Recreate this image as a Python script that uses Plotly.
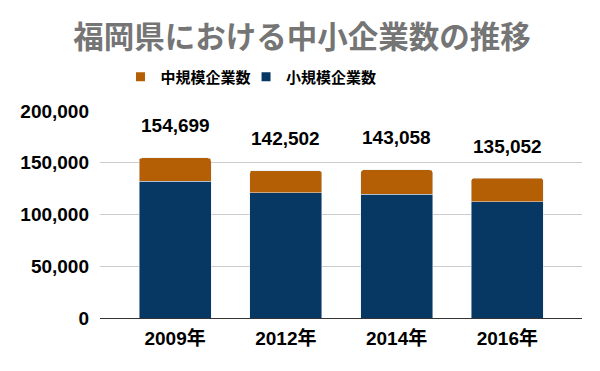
import plotly.graph_objects as go

years = ["2009年", "2012年", "2014年", "2016年"]
totals = [154699, 142502, 143058, 135052]
small = [132300, 120800, 119700, 112100]
medium = [t - s for t, s in zip(totals, small)]
ytick_vals = [0, 50000, 100000, 150000, 200000]
ytick_text = ["0", "50,000", "100,000", "150,000", "200,000"]

FONT = "Liberation Sans, Arial, Noto Sans CJK JP, sans-serif"
C_MED = "#b45f06"
C_SMALL = "#073763"

# page has an 8px body margin; size figure so it fills the 600x371 window
W, H = 592, 363

fig = go.Figure()
fig.add_trace(go.Bar(x=years, y=small, name="小規模企業数", marker_color=C_SMALL,
                     width=0.65, hoverinfo="skip", showlegend=False))
fig.add_trace(go.Bar(x=years, y=medium, name="中規模企業数", marker_color=C_MED,
                     width=0.65, hoverinfo="skip", showlegend=False))
# legend entries (small square swatches), one legend each for exact placement
for name, col, lg in [("中規模企業数", C_MED, "legend"), ("小規模企業数", C_SMALL, "legend2")]:
    fig.add_trace(go.Scatter(x=[None], y=[None], mode="markers", name=name,
                             marker=dict(symbol="square", size=9, color=col),
                             hoverinfo="skip", legend=lg))

for yr, t in zip(years, totals):
    fig.add_annotation(x=yr, y=t, text=f"<b>{t:,}</b>", showarrow=False, yanchor="middle",
                       yshift=32, font=dict(family=FONT, size=19, color="#000000"))

legend_font = dict(family=FONT, size=15, color="#000000", weight="bold")
fig.update_layout(
    width=W, height=H,
    margin=dict(l=92, r=18, t=103, b=53),
    paper_bgcolor="white", plot_bgcolor="white",
    barmode="stack", barcornerradius=3,
    title=dict(text="<b>福岡県における中小企業数の推移</b>", x=294 / W, xanchor="center",
               y=1 - 29 / H, yanchor="middle", yref="container",
               font=dict(family=FONT, size=30.5, color="#757575")),
    legend=dict(orientation="h", x=0.0425, xanchor="left", y=1.1645, yanchor="middle",
                bgcolor="rgba(0,0,0,0)", font=legend_font),
    legend2=dict(orientation="h", x=0.3030, xanchor="left", y=1.1645, yanchor="middle",
                 bgcolor="rgba(0,0,0,0)", font=legend_font),
    xaxis=dict(range=[-0.678, 3.674], showgrid=False, showline=True, linecolor="#333333",
               linewidth=1, ticks="", ticklabelstandoff=3, tickangle=0,
               tickfont=dict(family=FONT, size=19, color="#000000", weight="bold")),
    yaxis=dict(range=[0, 200000], tickvals=ytick_vals, ticktext=ytick_text,
               showgrid=True, gridcolor="#cccccc", zeroline=False, ticks="",
               ticklabelstandoff=10,
               tickfont=dict(family=FONT, size=19, color="#000000", weight="bold")),
)

fig.write_html("out.html")
